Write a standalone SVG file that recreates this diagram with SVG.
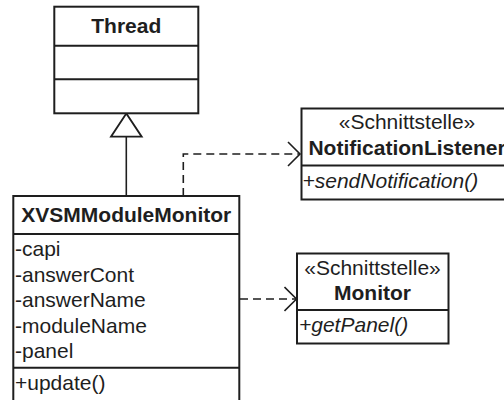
<svg xmlns="http://www.w3.org/2000/svg" width="504" height="400" viewBox="0 0 504 400">
<style>
.box{fill:#fff;stroke:#1e1e1e;stroke-width:2}
.div{stroke:#1e1e1e;stroke-width:2}
text{font-family:"Liberation Sans",Arial,sans-serif;font-size:21px;fill:#1e1e1e}
.b{font-weight:bold}
.i{font-style:italic}
.m{text-anchor:middle}
.solid{fill:none;stroke:#1e1e1e;stroke-width:1.6}
.dash{fill:none;stroke:#1e1e1e;stroke-width:1.6;stroke-dasharray:8 5}
</style>
<defs>
<marker id="open" markerUnits="userSpaceOnUse" markerWidth="16" markerHeight="28" refX="13" refY="13" orient="auto" viewBox="0 0 16 28">
<path d="M1,1 L13,13 L1,25" fill="none" stroke="#1e1e1e" stroke-width="1.6"/>
</marker>
</defs>
<g id="connectors">
<line class="solid" x1="126.3" y1="136.7" x2="126.3" y2="196"/>
<polygon points="126.3,113.5 111,136.7 141.7,136.7" fill="#fff" stroke="#1e1e1e" stroke-width="1.8"/>
<polyline class="dash" points="183.3,196 183.3,154 300,154" marker-end="url(#open)"/>
<line class="dash" x1="240" y1="299" x2="296.5" y2="299" marker-end="url(#open)"/>
</g>
<g id="thread">
<rect class="box" x="54.3" y="6.7" width="144" height="106.6"/>
<line class="div" x1="54.3" y1="45.7" x2="198.3" y2="45.7"/>
<line class="div" x1="54.3" y1="79.3" x2="198.3" y2="79.3"/>
<text class="b m" x="126.3" y="33.3">Thread</text>
</g>
<g id="xvsm">
<rect class="box" x="13.3" y="196" width="226" height="210"/>
<line class="div" x1="13.3" y1="234" x2="239.3" y2="234"/>
<line class="div" x1="13.3" y1="367.8" x2="239.3" y2="367.8"/>
<text class="b m" x="126.3" y="222.3">XVSMModuleMonitor</text>
<text x="15" y="255.7">-capi</text>
<text x="15" y="281.7">-answerCont</text>
<text x="15" y="307.3">-answerName</text>
<text x="15" y="332.5">-moduleName</text>
<text x="15" y="358.3">-panel</text>
<text x="15" y="390">+update()</text>
</g>
<g id="notificationlistener">
<rect class="box" x="301.5" y="108.5" width="211" height="91"/>
<line class="div" x1="301.5" y1="165.5" x2="512.5" y2="165.5"/>
<text class="m" x="407" y="129.3">«Schnittstelle»</text>
<text class="b m" x="407" y="155">NotificationListener</text>
<text class="i" x="302.5" y="188.3">+sendNotification()</text>
</g>
<g id="monitor">
<rect class="box" x="297" y="253.5" width="151.5" height="90"/>
<line class="div" x1="297" y1="310" x2="448.5" y2="310"/>
<text class="m" x="372.5" y="275">«Schnittstelle»</text>
<text class="b m" x="372.5" y="300">Monitor</text>
<text class="i" x="299" y="331.7">+getPanel()</text>
</g>
</svg>
